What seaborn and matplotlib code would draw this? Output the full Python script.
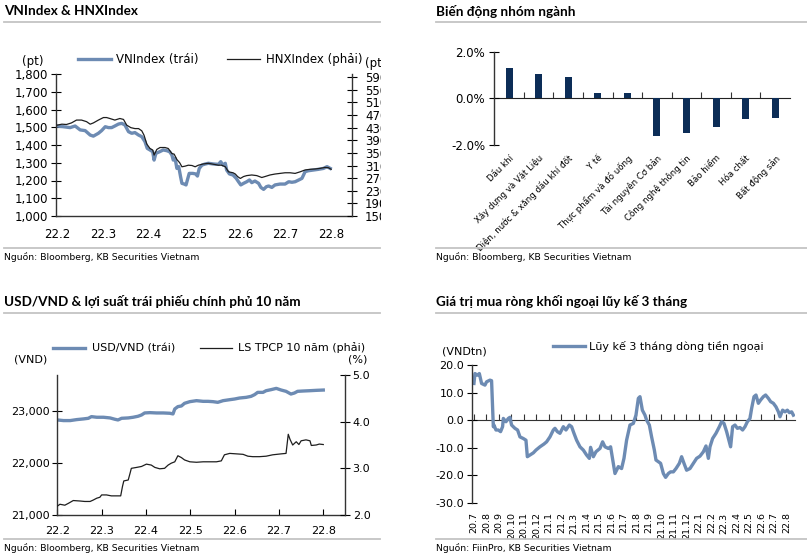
import matplotlib
matplotlib.use('Agg')
import matplotlib.pyplot as plt
import seaborn as sns
from matplotlib.lines import Line2D
from matplotlib.ticker import StrMethodFormatter
from matplotlib.transforms import Bbox, TransformedBbox

plt.rcParams['font.family'] = ['DejaVu Sans']
plt.rcParams['axes.unicode_minus'] = False
TITLE_FONT = ['Lato', 'Noto Sans', 'DejaVu Sans']

BLUE = '#6d8bb3'
NAVY = '#0c2d57'
GRID = '#c4c4c4'

# --- VNIndex & HNXIndex (x = tháng của năm 2022) ---
vn_x = [2.00, 2.13, 2.28, 2.39, 2.50, 2.61, 2.72, 2.79, 2.90, 2.97,
        3.05, 3.12, 3.19, 3.26, 3.34, 3.41, 3.48, 3.56, 3.63, 3.70,
        3.78, 3.85, 3.92, 3.97, 4.03, 4.09, 4.12, 4.16, 4.24, 4.32,
        4.40, 4.46, 4.51, 4.54, 4.58, 4.62, 4.66, 4.70, 4.73, 4.78,
        4.82, 4.85, 4.89, 4.97, 5.03, 5.07, 5.11, 5.17, 5.24, 5.31,
        5.42, 5.53, 5.58, 5.63, 5.68, 5.71, 5.77, 5.85, 5.92, 5.97,
        6.02, 6.08, 6.15, 6.21, 6.26, 6.33, 6.41, 6.46, 6.52, 6.58,
        6.63, 6.70, 6.77, 6.88, 6.99, 7.07, 7.14, 7.21, 7.29, 7.36,
        7.43, 7.50, 7.61, 7.72, 7.83, 7.91, 7.98]
vn_val = [1507, 1503, 1498, 1507, 1485, 1481, 1456, 1450, 1466, 1481,
          1503, 1498, 1498, 1507, 1518, 1522, 1513, 1475, 1466, 1470,
          1456, 1447, 1419, 1381, 1372, 1362, 1315, 1353, 1362, 1372,
          1368, 1362, 1344, 1315, 1325, 1268, 1278, 1222, 1184, 1180,
          1175, 1203, 1240, 1240, 1237, 1225, 1268, 1287, 1293, 1297,
          1293, 1291, 1306, 1287, 1297, 1259, 1237, 1231, 1212, 1193,
          1175, 1184, 1193, 1203, 1188, 1197, 1184, 1161, 1150, 1165,
          1169, 1161, 1175, 1180, 1180, 1193, 1190, 1193, 1203, 1212,
          1250, 1255, 1259, 1263, 1268, 1278, 1268]
hnx_x = [2.00, 2.10, 2.20, 2.31, 2.42, 2.53, 2.64, 2.72, 2.79, 2.90,
         3.01, 3.08, 3.15, 3.26, 3.37, 3.45, 3.52, 3.61, 3.70, 3.78,
         3.85, 3.90, 3.96, 4.03, 4.09, 4.12, 4.18, 4.25, 4.36, 4.43,
         4.51, 4.56, 4.62, 4.68, 4.73, 4.80, 4.87, 4.95, 5.02, 5.09,
         5.20, 5.31, 5.42, 5.53, 5.60, 5.68, 5.75, 5.85, 5.90, 5.95,
         6.01, 6.08, 6.15, 6.26, 6.37, 6.48, 6.55, 6.66, 6.77, 6.88,
         6.99, 7.10, 7.21, 7.32, 7.43, 7.54, 7.65, 7.76, 7.87, 7.94,
         8.00]
hnx_val = [438, 441, 440, 445, 454, 454, 449, 441, 445, 454,
           462, 462, 459, 454, 459, 456, 438, 430, 427, 427,
           420, 406, 378, 364, 359, 343, 361, 367, 367, 364,
           348, 346, 329, 319, 306, 308, 311, 310, 306, 311,
           315, 317, 314, 311, 311, 306, 290, 287, 283, 275,
           269, 275, 278, 280, 278, 272, 275, 280, 283, 285,
           287, 287, 285, 290, 296, 298, 299, 301, 304, 303,
           298]
month_ticks = [2, 3, 4, 5, 6, 7, 8]
month_labels = ['22.2', '22.3', '22.4', '22.5', '22.6', '22.7', '22.8']

# --- Biến động nhóm ngành (%) ---
sectors = ['Dầu khí', 'Xây dựng và Vật Liệu', 'Điện, nước & xăng dầu khí đốt',
           'Y tế', 'Thực phẩm và đồ uống', 'Tài nguyên Cơ bản',
           'Công nghệ thông tin', 'Bảo hiểm', 'Hóa chất', 'Bất động sản']
sector_chg = [1.28, 1.04, 0.90, 0.24, 0.21, -1.60, -1.50, -1.23, -0.89, -0.84]

# --- USD/VND & LS TPCP 10 năm ---
usd_x = [2.00, 2.14, 2.29, 2.44, 2.59, 2.70, 2.77, 2.89, 3.04, 3.19,
         3.30, 3.37, 3.45, 3.60, 3.71, 3.82, 3.90, 3.97, 4.09, 4.24,
         4.39, 4.54, 4.61, 4.65, 4.72, 4.80, 4.87, 4.99, 5.14, 5.29,
         5.40, 5.51, 5.62, 5.74, 5.89, 6.00, 6.11, 6.26, 6.37, 6.45,
         6.52, 6.64, 6.71, 6.82, 6.94, 7.05, 7.16, 7.27, 7.35, 7.42,
         7.54, 7.69, 7.84, 8.00]
usd_val = [22833, 22821, 22821, 22840, 22853, 22865, 22897, 22885, 22885, 22872,
           22846, 22833, 22865, 22872, 22885, 22904, 22929, 22968, 22974, 22968,
           22968, 22962, 22949, 23045, 23090, 23103, 23154, 23186, 23205, 23192,
           23192, 23186, 23173, 23205, 23224, 23237, 23256, 23269, 23288, 23321,
           23365, 23365, 23397, 23417, 23442, 23410, 23385, 23333, 23353, 23385,
           23391, 23397, 23404, 23410]
ls_x = [2.00, 2.06, 2.17, 2.25, 2.36, 2.51, 2.62, 2.74, 2.81, 2.89,
        2.96, 3.00, 3.11, 3.22, 3.34, 3.43, 3.47, 3.50, 3.60, 3.64,
        3.67, 3.79, 3.90, 4.01, 4.12, 4.20, 4.31, 4.42, 4.50, 4.57,
        4.65, 4.72, 4.80, 4.87, 4.99, 5.14, 5.29, 5.44, 5.59, 5.70,
        5.77, 5.89, 6.04, 6.19, 6.30, 6.41, 6.56, 6.71, 6.86, 7.05,
        7.16, 7.21, 7.25, 7.31, 7.39, 7.45, 7.50, 7.61, 7.70, 7.73,
        7.84, 7.91, 8.00]
ls_val = [2.19, 2.23, 2.21, 2.25, 2.31, 2.30, 2.29, 2.29, 2.32, 2.36,
          2.38, 2.43, 2.43, 2.41, 2.41, 2.41, 2.61, 2.73, 2.75, 2.89,
          3.00, 3.02, 3.04, 3.09, 3.07, 3.02, 2.99, 3.00, 3.07, 3.11,
          3.14, 3.27, 3.23, 3.18, 3.14, 3.13, 3.14, 3.14, 3.14, 3.16,
          3.29, 3.32, 3.31, 3.30, 3.26, 3.25, 3.25, 3.26, 3.29, 3.31,
          3.32, 3.73, 3.62, 3.50, 3.57, 3.51, 3.59, 3.61, 3.59, 3.49,
          3.50, 3.52, 3.51]

# --- Lũy kế 3 tháng dòng tiền ngoại (x = số tháng kể từ 20.7) ---
flow_x = [0.00, 0.08, 0.27, 0.43, 0.61, 0.88, 1.01, 1.28, 1.41, 1.55,
          1.60, 1.76, 1.95, 2.13, 2.29, 2.35, 2.56, 2.75, 2.88, 3.01,
          3.28, 3.49, 3.68, 3.95, 4.16, 4.27, 4.48, 4.75, 4.96, 5.28,
          5.60, 5.81, 6.08, 6.35, 6.48, 6.67, 6.88, 7.15, 7.36, 7.63,
          7.81, 8.00, 8.21, 8.48, 8.75, 9.01, 9.23, 9.33, 9.55, 9.76,
          10.08, 10.29, 10.48, 10.75, 10.93, 11.15, 11.28, 11.55, 11.81, 12.00,
          12.21, 12.48, 12.75, 12.96, 13.15, 13.28, 13.47, 13.68, 13.81, 14.03,
          14.21, 14.43, 14.56, 14.75, 14.93, 15.15, 15.33, 15.55, 15.73, 15.95,
          16.16, 16.43, 16.61, 16.80, 17.01, 17.28, 17.55, 17.81, 18.08, 18.35,
          18.56, 18.75, 18.88, 19.09, 19.36, 19.63, 19.81, 20.00, 20.21, 20.43,
          20.53, 20.69, 20.88, 21.07, 21.28, 21.49, 21.68, 21.87, 22.08, 22.21,
          22.40, 22.56, 22.75, 22.93, 23.15, 23.33, 23.55, 23.73, 23.95, 24.16,
          24.35, 24.48, 24.69, 24.88, 25.07, 25.23, 25.41, 25.55]
flow_val = [13.3, 16.9, 16.3, 16.9, 13.3, 12.7, 13.9, 14.5, 14.3, -2.4,
            -1.8, -3.6, -3.6, -4.2, -2.4, 0.6, -0.6, 0.6, 1.0, -1.8,
            -3.0, -3.6, -6.1, -6.7, -7.3, -13.3, -12.7, -11.9, -10.9, -9.7,
            -8.7, -7.9, -6.1, -3.6, -3.0, -4.2, -4.8, -2.4, -3.6, -1.8,
            -2.4, -4.8, -7.3, -9.7, -10.9, -12.7, -13.9, -9.9, -13.3, -11.5,
            -10.3, -7.9, -9.7, -10.3, -9.7, -15.7, -19.4, -16.9, -17.6, -13.9,
            -7.3, -1.8, -1.2, 1.8, 7.9, 8.5, 3.6, 1.8, 0.0, -1.8,
            -6.1, -10.9, -14.5, -15.1, -15.7, -19.4, -20.8, -19.4, -18.8, -18.8,
            -17.6, -15.7, -13.3, -15.7, -18.2, -17.6, -15.7, -13.9, -13.1, -11.5,
            -9.4, -13.9, -9.7, -6.7, -4.8, -2.4, -0.6, -1.2, -4.2, -7.9,
            -9.7, -2.4, -1.8, -3.0, -2.7, -3.6, -2.4, -0.6, 0.6, 4.2,
            8.5, 9.1, 6.1, 7.3, 8.5, 9.1, 7.9, 6.7, 6.1, 4.8,
            3.0, 1.2, 3.6, 3.0, 3.6, 2.7, 3.0, 1.8]
flow_labels = ['20.7', '20.8', '20.9', '20.10', '20.11', '20.12',
               '21.1', '21.2', '21.3', '21.4', '21.5', '21.6', '21.7', '21.8',
               '21.9', '21.10', '21.11', '21.12',
               '22.1', '22.2', '22.3', '22.4', '22.5', '22.6', '22.7', '22.8']

W, H = 807, 558
fig = plt.figure(figsize=(W / 100, H / 100), dpi=100)


def box(x0, y0, x1, y1):
    # pixel box (top-left origin) -> figure fraction rect
    return [x0 / W, 1 - y1 / H, (x1 - x0) / W, (y1 - y0) / H]


def hline(x0, x1, y):
    fig.add_artist(Line2D([x0 / W, x1 / W], [1 - y / H, 1 - y / H],
                          transform=fig.transFigure, color=GRID, lw=1.3))


def ftext(x, y, s, **kw):
    fig.text(x / W, 1 - y / H, s, va='center', ha=kw.pop('ha', 'left'), **kw)


def style_axis(ax, spines):
    for k, sp in ax.spines.items():
        sp.set_visible(k in spines)
        sp.set_color('#333333')
        sp.set_linewidth(1.0)


# khung tiêu đề + nguồn
for x0, x1, yt, ys, title, src in [
        (4, 380, 11, 257, 'VNIndex & HNXIndex', 'Nguồn: Bloomberg, KB Securities Vietnam'),
        (436, 807, 11, 257, 'Biến động nhóm ngành', 'Nguồn: Bloomberg, KB Securities Vietnam'),
        (4, 380, 302, 548, 'USD/VND & lợi suất trái phiếu chính phủ 10 năm',
         'Nguồn: Bloomberg, KB Securities Vietnam'),
        (436, 807, 302, 548, 'Giá trị mua ròng khối ngoại lũy kế 3 tháng',
         'Nguồn: FiinPro, KB Securities Vietnam')]:
    ftext(x0, yt, title, fontsize=9.7, fontweight='bold', family=TITLE_FONT)
    hline(x0, x1, yt + 11)
    hline(x0, x1, ys - 9)
    ftext(x0, ys, src, fontsize=6.7)

# ---------------- Panel 1 ----------------
ax1 = fig.add_axes(box(55.5, 74, 351.7, 216))
sns.lineplot(x=vn_x, y=vn_val, ax=ax1, color=BLUE, linewidth=2.4,
             label='VNIndex (trái)', legend=False)
ax1r = ax1.twinx()
sns.lineplot(x=hnx_x, y=hnx_val, ax=ax1r, color='#1e1e1e', linewidth=0.9,
             label='HNXIndex (phải)', legend=False)
ax1.set_xlim(1.96, 8.45)
ax1.set_ylim(1000, 1800)
ax1r.set_ylim(150, 600)
ax1.set_xticks(month_ticks, labels=month_labels)
ax1.set_yticks(range(1000, 1801, 100))
ax1.yaxis.set_major_formatter(StrMethodFormatter('{x:,.0f}'))
ax1r.set_yticks(range(150, 591, 40))
style_axis(ax1, ['left', 'bottom'])
style_axis(ax1r, ['right'])
ax1.tick_params(axis='y', direction='inout', length=7, labelsize=8.5, pad=2)
ax1.tick_params(axis='x', length=0, labelsize=8.5, pad=9)
ax1r.tick_params(axis='y', direction='inout', length=7, labelsize=8.5, pad=6)
clip1 = TransformedBbox(Bbox.from_extents(0, 0, 381 / W, 1), fig.transFigure)
for lab in ax1r.get_yticklabels():
    lab.set_clip_box(clip1)
    lab.set_clip_on(True)
ftext(22, 62, '(pt)', fontsize=8.5)
t = fig.text(365 / W, 1 - 63 / H, '(pt)', fontsize=8.5, va='center')
t.set_clip_box(clip1)
t.set_clip_on(True)
fig.legend(handles=[ax1.get_lines()[0], ax1r.get_lines()[0]], loc='center left',
           bbox_to_anchor=(78 / W, 1 - 60 / H), ncol=2, frameon=False, fontsize=8.5,
           handlelength=2.8, handletextpad=0.45, columnspacing=2.4,
           borderpad=0, borderaxespad=0)

# ---------------- Panel 2 ----------------
ax2 = fig.add_axes(box(494.3, 51.7, 790, 145))
sns.barplot(x=sectors, y=sector_chg, ax=ax2, color=NAVY, saturation=1, width=0.24)
ax2.set_xlim(-0.5, 9.5)
ax2.set_ylim(-2, 2)
ax2.set_yticks([-2, 0, 2], labels=['-2.0%', '0.0%', '2.0%'])
ax2.set_xticks(range(len(sectors)))
ax2.set_xticklabels(sectors, rotation=45, ha='right', va='top', rotation_mode='anchor',
                    fontsize=6.2)
ax2.set_xlabel('')
ax2.set_ylabel('')
style_axis(ax2, ['left'])
ax2.tick_params(axis='y', direction='inout', length=7, labelsize=8.5, pad=3)
ax2.tick_params(axis='x', length=0, pad=6)
zero2 = ax2.secondary_xaxis(0.5)
zero2.set_xticks([i + 0.5 for i in range(len(sectors) - 1)],
                 labels=[''] * (len(sectors) - 1))
zero2.tick_params(direction='out', length=4, color='#333333')
for sp in zero2.spines.values():
    sp.set_color('#222222')

# ---------------- Panel 3 ----------------
ax3 = fig.add_axes(box(57.3, 375, 345, 515))
sns.lineplot(x=usd_x, y=usd_val, ax=ax3, color=BLUE, linewidth=2.4,
             label='USD/VND (trái)', legend=False)
ax3r = ax3.twinx()
sns.lineplot(x=ls_x, y=ls_val, ax=ax3r, color='#1e1e1e', linewidth=0.9,
             label='LS TPCP 10 năm (phải)', legend=False)
ax3.set_xlim(2, 8.49)
ax3.set_ylim(21000, 23700)
ax3r.set_ylim(2, 5)
ax3.set_xticks(month_ticks, labels=month_labels)
ax3.set_yticks([21000, 22000, 23000])
ax3.yaxis.set_major_formatter(StrMethodFormatter('{x:,.0f}'))
ax3r.set_yticks([2, 3, 4, 5])
ax3r.yaxis.set_major_formatter(StrMethodFormatter('{x:.1f}'))
style_axis(ax3, ['left', 'bottom'])
style_axis(ax3r, ['right'])
ax3.tick_params(axis='y', direction='inout', length=7, labelsize=8, pad=2)
ax3.tick_params(axis='x', direction='in', length=4, labelsize=8, pad=8)
ax3r.tick_params(axis='y', direction='inout', length=7, labelsize=8, pad=2)
ftext(14, 360, '(VND)', fontsize=8)
ftext(348, 360, '(%)', fontsize=8)
fig.legend(handles=[ax3.get_lines()[0], ax3r.get_lines()[0]], loc='center left',
           bbox_to_anchor=(53 / W, 1 - 348 / H), ncol=2, frameon=False, fontsize=8,
           handlelength=2.9, handletextpad=0.6, columnspacing=2.2,
           borderpad=0, borderaxespad=0)

# ---------------- Panel 4 ----------------
ax4 = fig.add_axes(box(471.7, 365, 795, 502.7))
sns.lineplot(x=flow_x, y=flow_val, ax=ax4, color=BLUE, linewidth=2.4,
             label='Lũy kế 3 tháng dòng tiền ngoại', legend=False)
ax4.set_xlim(-0.18, 25.68)
ax4.set_ylim(-30, 20)
ax4.set_xticks(range(len(flow_labels)), labels=flow_labels, rotation=90)
ax4.set_yticks(range(-30, 21, 10))
ax4.yaxis.set_major_formatter(StrMethodFormatter('{x:.1f}'))
style_axis(ax4, ['left'])
ax4.tick_params(axis='y', direction='inout', length=7, labelsize=8, pad=2)
ax4.tick_params(axis='x', length=0, labelsize=6.8, pad=7)
zero4 = ax4.secondary_xaxis(0.6)
zero4.set_xticks(range(len(flow_labels)), labels=[''] * len(flow_labels))
zero4.tick_params(direction='out', length=4, color='#333333')
for sp in zero4.spines.values():
    sp.set_color('#333333')
ftext(442, 351, '(VNDtn)', fontsize=8)
fig.legend(handles=[ax4.get_lines()[0]], loc='center left',
           bbox_to_anchor=(553 / W, 1 - 346 / H), frameon=False, fontsize=8,
           handlelength=2.9, handletextpad=0.3, borderpad=0, borderaxespad=0)

fig.savefig('out.png', dpi=100)
